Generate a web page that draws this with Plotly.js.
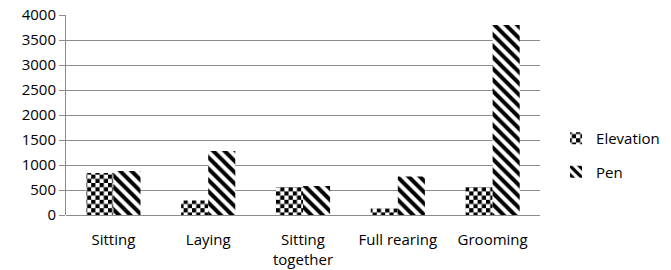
<!DOCTYPE html>
<html>
<head>
<meta charset="utf-8">
<script src="https://cdn.plot.ly/plotly-3.0.1.min.js"></script>
<style>
html,body{margin:0;padding:0;background:#fff;}
#chart{width:671px;height:270px;}
</style>
</head>
<body>
<div id="chart"></div>
<script>
const categories = ["Sitting", "Laying", "Sitting<br>together", "Full rearing", "Grooming"];
const elevation = [840, 290, 560, 130, 560];
const pen = [880, 1280, 580, 770, 3800];
const yTicks = [0, 500, 1000, 1500, 2000, 2500, 3000, 3500, 4000];

const FONT = "'Open Sans', 'Noto Sans', sans-serif";

const traces = [
  {
    type: "bar", name: "Elevation", x: categories, y: elevation,
    legendgroup: "a",
    marker: {color: "white", line: {width: 0},
      pattern: {shape: ".", fgcolor: "black", bgcolor: "white", size: 8, solidity: 0.5}},
    hoverinfo: "skip"
  },
  {
    type: "bar", name: "Pen", x: categories, y: pen,
    legendgroup: "b",
    marker: {color: "white", line: {width: 0},
      pattern: {shape: "\\", fgcolor: "black", bgcolor: "white", size: 8, solidity: 0.5}},
    hoverinfo: "skip"
  }
];

const layout = {
  width: 671, height: 270,
  margin: {l: 66, r: 0, t: 15, b: 55},
  paper_bgcolor: "white", plot_bgcolor: "white",
  font: {family: FONT, size: 15, color: "#000"},
  barmode: "group",
  bargap: 0.4286, bargroupgap: 0,
  showlegend: true,
  legend: {x: 0.81, y: 0.3, xanchor: "left", yanchor: "middle",
    traceorder: "grouped", tracegroupgap: 11,
    font: {family: FONT, size: 15, color: "#000"},
    itemwidth: 30},
  xaxis: {
    type: "category", domain: [0, 0.7835],
    showgrid: false, zeroline: false,
    showline: false, ticks: "", tickfont: {family: FONT, size: 15},
    ticklabelstandoff: 14,
    fixedrange: true
  },
  yaxis: {
    range: [0, 4000], tickvals: yTicks, ticktext: yTicks.map(String),
    showgrid: true, gridcolor: "#8c8c8c", gridwidth: 1,
    zeroline: true, zerolinecolor: "#8c8c8c", zerolinewidth: 1,
    showline: true, linecolor: "#8c8c8c", linewidth: 1,
    ticks: "outside", ticklen: 6, tickcolor: "#8c8c8c",
    tickfont: {family: FONT, size: 15}, ticklabelstandoff: 0,
    fixedrange: true
  }
};

Plotly.newPlot("chart", traces, layout, {staticPlot: true, displayModeBar: false}).then(function(gd) {
  try {
    const cell = 4.2;
    const pats = document.querySelectorAll("pattern");
    pats.forEach(function(p) {
      if (p.querySelector("circle")) {
        const ns = "http://www.w3.org/2000/svg";
        while (p.firstChild) p.removeChild(p.firstChild);
        p.setAttribute("width", 2 * cell);
        p.setAttribute("height", 2 * cell);
        p.removeAttribute("patternTransform");
        const bg = document.createElementNS(ns, "rect");
        bg.setAttribute("x", 0); bg.setAttribute("y", 0);
        bg.setAttribute("width", 2 * cell); bg.setAttribute("height", 2 * cell);
        bg.setAttribute("fill", "white");
        p.appendChild(bg);
        [[0, 0], [cell, cell]].forEach(function(o) {
          const r = document.createElementNS(ns, "rect");
          r.setAttribute("x", o[0]); r.setAttribute("y", o[1]);
          r.setAttribute("width", cell); r.setAttribute("height", cell);
          r.setAttribute("fill", "black");
          p.appendChild(r);
        });
      }
    });
  } catch (e) {}
});
</script>
</body>
</html>
